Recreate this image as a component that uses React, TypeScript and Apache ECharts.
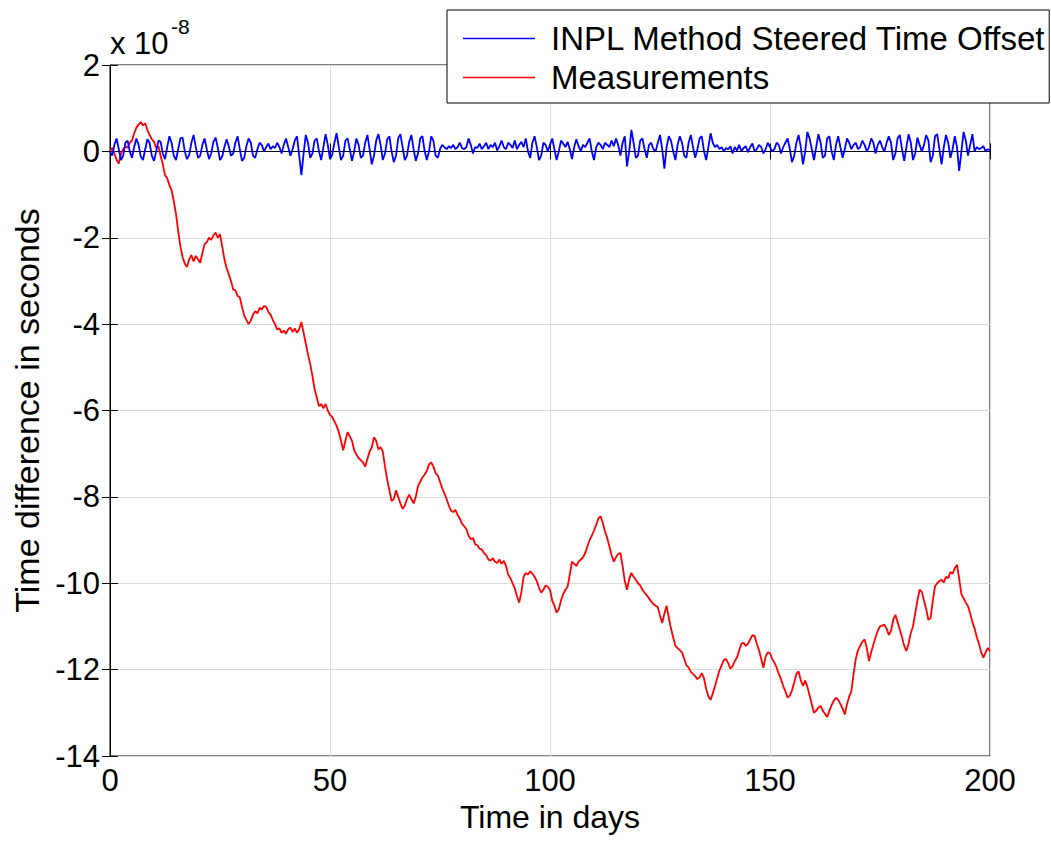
import React, { useEffect, useRef } from "react";
import * as echarts from "echarts";

// Sampling step of both records, in days
const STEP_DAYS = 0.5;

// Measurements (units of 1e-8 s), one value every 0.5 day, day 0..200
const measurements: number[] = [
  // 0-10
  0.0, 0.08, -0.05, -0.2, -0.28, -0.05, 0.05, 0.12, 0.08, 0.2, 0.25, 0.42, 0.55, 0.62, 0.68, 0.6, 0.65, 0.5, 0.38, 0.28,
  // 10-20
  0.22, 0.08, 0.12, -0.1, -0.3, -0.55, -0.62, -0.78, -0.9, -1.15, -1.45, -1.85, -2.2, -2.45, -2.6, -2.68, -2.5, -2.4, -2.55, -2.42,
  // 20-30
  -2.5, -2.58, -2.35, -2.15, -2.1, -2.0, -2.05, -1.95, -1.88, -2.0, -1.92, -2.2, -2.5, -2.7, -2.85, -3.0, -3.2, -3.22, -3.35, -3.38,
  // 30-40
  -3.6, -3.8, -3.9, -4.0, -3.92, -3.78, -3.7, -3.75, -3.62, -3.66, -3.58, -3.6, -3.72, -3.78, -3.9, -4.0, -4.12, -4.1, -4.2, -4.15,
  // 40-50
  -4.22, -4.12, -4.08, -4.18, -4.1, -4.2, -4.12, -3.95, -4.2, -4.45, -4.7, -4.92, -5.2, -5.5, -5.7, -5.9, -5.85, -5.95, -5.85, -6.0,
  // 50-60
  -6.1, -6.15, -6.25, -6.35, -6.5, -6.7, -6.92, -6.7, -6.5, -6.6, -6.7, -6.92, -7.02, -7.1, -7.15, -7.2, -7.3, -7.12, -6.95, -6.85,
  // 60-70
  -6.62, -6.7, -6.9, -6.85, -6.95, -7.3, -7.6, -7.85, -8.1, -8.05, -7.85, -8.0, -8.15, -8.28, -8.2, -8.05, -7.95, -8.05, -8.15, -8.0,
  // 70-80
  -7.75, -7.65, -7.55, -7.48, -7.4, -7.25, -7.2, -7.3, -7.45, -7.5, -7.65, -7.8, -7.92, -8.05, -8.2, -8.32, -8.35, -8.3, -8.42, -8.5,
  // 80-90
  -8.62, -8.68, -8.75, -8.9, -8.98, -8.95, -9.1, -9.12, -9.2, -9.22, -9.3, -9.35, -9.45, -9.48, -9.42, -9.5, -9.53, -9.45, -9.55, -9.48,
  // 90-100
  -9.6, -9.8, -9.88, -10.0, -10.12, -10.3, -10.45, -10.2, -9.85, -9.76, -9.8, -9.72, -9.78, -9.85, -9.95, -10.1, -10.22, -10.15, -10.05, -10.08,
  // 100-110
  -10.15, -10.4, -10.52, -10.68, -10.6, -10.4, -10.25, -10.15, -10.08, -9.8, -9.5, -9.55, -9.6, -9.5, -9.45, -9.4, -9.3, -9.15, -9.0, -8.9,
  // 110-120
  -8.78, -8.65, -8.5, -8.45, -8.6, -8.8, -8.95, -9.15, -9.35, -9.5, -9.4, -9.32, -9.3, -9.6, -9.95, -10.15, -9.9, -9.76, -9.85, -9.92,
  // 120-130
  -10.0, -10.05, -10.15, -10.22, -10.28, -10.35, -10.42, -10.48, -10.52, -10.55, -10.75, -10.92, -10.7, -10.52, -10.8, -11.05, -11.25, -11.45, -11.5, -11.55,
  // 130-140
  -11.6, -11.75, -11.9, -11.95, -12.05, -12.1, -12.15, -12.22, -12.18, -12.08, -12.2, -12.45, -12.62, -12.7, -12.55, -12.38, -12.2, -12.02, -11.9, -11.78,
  // 140-150
  -11.75, -11.85, -11.98, -11.92, -11.8, -11.72, -11.55, -11.4, -11.38, -11.45, -11.4, -11.3, -11.2, -11.22, -11.4, -11.55, -11.75, -11.96, -11.7, -11.6,
  // 150-160
  -11.62, -11.75, -11.84, -11.95, -12.1, -12.22, -12.38, -12.5, -12.65, -12.6, -12.48, -12.3, -12.1, -12.04, -12.25, -12.38, -12.25, -12.4, -12.6, -12.8,
  // 160-170
  -13.0, -12.95, -12.88, -12.84, -12.95, -13.02, -13.1, -12.95, -12.82, -12.72, -12.65, -12.7, -12.8, -12.9, -13.04, -12.8, -12.62, -12.5, -12.1, -11.75,
  // 170-180
  -11.55, -11.45, -11.35, -11.3, -11.5, -11.8, -11.6, -11.42, -11.25, -11.1, -11.0, -10.98, -10.96, -11.05, -11.2, -11.1, -10.85, -10.73, -10.9, -11.07,
  // 180-190
  -11.25, -11.45, -11.57, -11.4, -11.15, -11.0, -10.7, -10.4, -10.15, -10.2, -10.4, -10.6, -10.85, -10.8, -10.4, -10.07, -10.0, -9.95, -9.92, -9.98,
  // 190-200
  -9.85, -9.88, -9.74, -9.78, -9.65, -9.57, -9.9, -10.25, -10.35, -10.45, -10.53, -10.7, -10.9, -11.05, -11.25, -11.4, -11.6, -11.72, -11.6, -11.5,
  // 200
  -11.57,
];

// INPL Method Steered Time Offset (units of 1e-8 s), one value every 0.5 day
const steered: number[] = [
  // 0-10
  0, -0.1, 0.15, 0.3, 0.05, -0.2, -0.1, 0.2, 0.25, 0.0, -0.15, 0.1, 0.3, 0.15, -0.12, -0.2, 0.05, 0.28, 0.2, -0.1,
  // 10-20
  -0.22, 0.0, 0.25, 0.22, -0.05, -0.18, 0.1, 0.35, 0.2, -0.1, -0.2, 0.05, 0.3, 0.32, 0.0, -0.18, -0.08, 0.2, 0.38, 0.1,
  // 20-30
  -0.15, -0.1, 0.15, 0.3, 0.05, -0.18, -0.05, 0.22, 0.32, 0.08, -0.2, -0.12, 0.1, 0.28, 0.12, -0.1, -0.05, 0.2, 0.35, 0.05,
  // 30-40
  -0.22, -0.15, 0.12, 0.3, 0.2, -0.1, -0.15, 0.05, 0.2, 0.15, 0.0, 0.1, 0.18, 0.05, 0.12, 0.08, 0.2, 0.1, -0.05, 0.15,
  // 40-50
  0.3, 0.1, -0.1, 0.05, 0.25, 0.35, -0.1, -0.55, -0.05, 0.38, 0.2, -0.15, -0.05, 0.25, 0.3, 0.0, -0.2, 0.1, 0.4, 0.15,
  // 50-60
  -0.18, -0.08, 0.2, 0.42, 0.1, -0.2, -0.1, 0.25, 0.3, 0.05, -0.22, 0.0, 0.3, 0.15, -0.15, -0.1, 0.2, 0.38, 0.05, -0.3,
  // 60-70
  -0.1, 0.25, 0.4, 0.15, -0.2, -0.05, 0.28, 0.35, 0.0, -0.25, -0.1, 0.3, 0.4, 0.1, -0.2, -0.1, 0.22, 0.38, 0.05, -0.22,
  // 70-80
  -0.05, 0.3, 0.35, 0.02, -0.2, 0.0, 0.35, 0.25, -0.1, -0.15, 0.05, 0.15, 0.1, 0.05, 0.12, 0.08, 0.15, 0.05, 0.1, 0.2,
  // 80-90
  0.08, 0.05, 0.1, 0.3, 0.15, -0.05, 0.1, 0.08, 0.18, 0.05, 0.12, 0.2, 0.05, 0.15, 0.1, 0.2, 0.02, 0.12, 0.25, 0.1,
  // 90-100
  0.05, 0.2, 0.15, 0.08, 0.25, 0.05, 0.15, 0.22, 0.1, 0.3, 0.0, -0.15, 0.2, 0.35, 0.1, -0.2, -0.1, 0.2, 0.15, 0.0,
  // 100-110
  0.15, 0.3, 0.05, -0.2, 0.0, 0.25, 0.18, 0.1, 0.22, 0.05, -0.18, 0.1, 0.28, 0.12, 0.0, 0.15, 0.1, 0.2, 0.3, 0.0,
  // 110-120
  -0.2, 0.1, 0.2, 0.15, 0.05, 0.2, 0.15, 0.1, 0.25, 0.12, 0.3, 0.15, -0.1, 0.2, 0.35, -0.35, 0.0, 0.5, 0.2, -0.15,
  // 120-130
  -0.1, 0.25, 0.3, 0.05, -0.15, 0.15, 0.2, 0.05, 0.0, 0.2, 0.38, 0.05, -0.4, 0.1, 0.35, 0.25, 0.0, -0.2, 0.15, 0.35,
  // 130-140
  0.2, -0.1, -0.15, 0.2, 0.38, 0.1, -0.15, 0.05, 0.3, 0.35, 0.0, -0.2, 0.1, 0.42, 0.2, 0.1, 0.15, 0.05, 0.1, 0.0,
  // 140-150
  0.08, 0.05, 0.12, -0.05, 0.1, 0.02, 0.15, 0.0, 0.08, 0.12, -0.02, 0.1, 0.18, 0.0, 0.05, 0.15, 0.1, -0.05, 0.05, 0.2,
  // 150-160
  0.1, 0.0, 0.05, 0.2, 0.15, -0.05, 0.1, 0.2, 0.3, 0.05, -0.25, -0.1, 0.2, 0.38, 0.1, -0.3, 0.0, 0.45, 0.3, 0.05,
  // 160-170
  -0.2, 0.1, 0.4, 0.2, -0.15, -0.1, 0.3, 0.35, 0.0, -0.2, 0.15, 0.35, 0.1, -0.15, 0.05, 0.3, 0.2, 0.05, 0.15, 0.2,
  // 170-180
  0.05, 0.1, 0.25, 0.15, 0.0, 0.1, 0.3, 0.2, -0.05, 0.15, 0.25, 0.1, 0.0, 0.2, 0.35, 0.2, -0.2, -0.05, 0.3, 0.38,
  // 180-190
  0.05, -0.22, 0.1, 0.4, 0.2, -0.2, -0.05, 0.32, 0.15, 0.0, 0.15, 0.38, 0.25, -0.25, -0.1, 0.35, 0.4, 0.05, -0.3, 0.1,
  // 190-200
  0.38, 0.2, -0.15, 0.05, 0.35, 0.1, -0.45, 0.0, 0.45, 0.25, -0.1, 0.15, 0.4, 0.0, 0.1, 0.05, 0.08, 0.12, 0.0, 0.05,
  // 200
  0.03,
];

const seriesNames = ["INPL Method Steered Time Offset", "Measurements"];
const xTicks = { min: 0, max: 200, interval: 50 };
const yTicks = { min: -14, max: 2, interval: 2 };

const FONT = "'Liberation Sans', Arial, sans-serif";

function toPairs(vals: number[]): [number, number][] {
  return vals.map((v, i) => [i * STEP_DAYS, v]);
}

export default function App() {
  const ref = useRef<HTMLDivElement>(null);

  useEffect(() => {
    if (!ref.current) return;
    const chart = echarts.init(ref.current, undefined, { renderer: "svg" });
    const tickStyle = { inside: true, length: 8, lineStyle: { color: "#000", width: 1 } };
    const gridLine = { show: true, lineStyle: { color: "#dcdcdc", width: 1 } };
    const labelStyle = { color: "#000", fontSize: 31, fontFamily: FONT };

    chart.setOption({
      animation: false,
      backgroundColor: "#fff",
      grid: {
        left: 110,
        right: 61,
        top: 65,
        bottom: 87,
        show: true,
        borderColor: "#000",
        borderWidth: 1,
        backgroundColor: "#fff",
      },
      legend: {
        show: true,
        orient: "vertical",
        left: 447,
        top: 10,
        data: seriesNames,
        icon: "rect",
        itemWidth: 72,
        itemHeight: 1.5,
        itemGap: 0,
        padding: [9, 3, 6, 16],
        backgroundColor: "#fff",
        borderColor: "#000",
        borderWidth: 1,
        textStyle: { color: "#000", fontSize: 33, fontFamily: FONT, lineHeight: 39, padding: [0, 0, 0, 11] },
      },
      graphic: [
        {
          type: "text",
          left: 110,
          top: 28,
          style: { text: "x 10", fill: "#000", font: `31px ${FONT}` },
        },
        {
          type: "text",
          left: 171,
          top: 16,
          style: { text: "-8", fill: "#000", font: `21px ${FONT}` },
        },
      ],
      xAxis: [
        {
          type: "value",
          position: "bottom",
          min: xTicks.min,
          max: xTicks.max,
          interval: xTicks.interval,
          name: "Time in days",
          nameLocation: "middle",
          nameGap: 45,
          nameTextStyle: { color: "#000", fontSize: 32, fontFamily: FONT },
          axisLine: { show: true, lineStyle: { color: "#000", width: 1 } },
          axisTick: tickStyle,
          axisLabel: { ...labelStyle, margin: 9 },
          splitLine: gridLine,
        },
        {
          type: "value",
          position: "top",
          min: xTicks.min,
          max: xTicks.max,
          interval: xTicks.interval,
          axisLine: { show: true, lineStyle: { color: "#000", width: 1 } },
          axisTick: tickStyle,
          axisLabel: { show: false },
          splitLine: { show: false },
        },
      ],
      yAxis: [
        {
          type: "value",
          position: "left",
          min: yTicks.min,
          max: yTicks.max,
          interval: yTicks.interval,
          name: "Time difference in seconds",
          nameLocation: "middle",
          nameGap: 64,
          nameTextStyle: { color: "#000", fontSize: 34, fontFamily: FONT },
          axisLine: { show: true, lineStyle: { color: "#000", width: 1 } },
          axisTick: tickStyle,
          axisLabel: { ...labelStyle, margin: 10 },
          splitLine: gridLine,
        },
        {
          type: "value",
          position: "right",
          min: yTicks.min,
          max: yTicks.max,
          interval: yTicks.interval,
          axisLine: { show: true, lineStyle: { color: "#000", width: 1 } },
          axisTick: tickStyle,
          axisLabel: { show: false },
          splitLine: { show: false },
        },
      ],
      series: [
        {
          name: seriesNames[0],
          type: "line",
          xAxisIndex: 0,
          yAxisIndex: 0,
          data: toPairs(steered),
          showSymbol: false,
          symbol: "none",
          color: "#0000ff",
          lineStyle: { color: "#0000ff", width: 1.8 },
          z: 3,
        },
        {
          name: seriesNames[1],
          type: "line",
          xAxisIndex: 0,
          yAxisIndex: 0,
          data: toPairs(measurements),
          showSymbol: false,
          symbol: "none",
          color: "#ff0000",
          lineStyle: { color: "#ff0000", width: 1.8 },
          z: 2,
        },
      ],
    });
    return () => chart.dispose();
  }, []);

  return (
    <div
      ref={ref}
      style={{ position: "fixed", left: 0, top: 0, width: 1051, height: 843, background: "#fff" }}
    />
  );
}
